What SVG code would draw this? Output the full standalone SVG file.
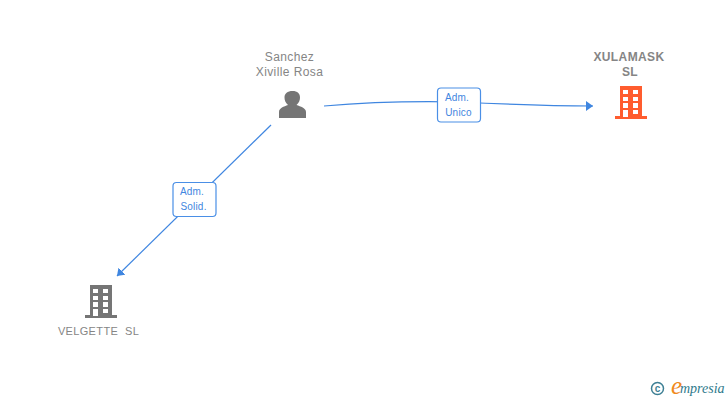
<svg xmlns="http://www.w3.org/2000/svg" width="728" height="400" viewBox="0 0 728 400">
<style>
text{font-family:"Liberation Sans",Arial,sans-serif}
.name{font-size:12px;fill:#858585;text-anchor:middle;letter-spacing:.4px}
.bold{font-weight:bold;letter-spacing:.4px}
.lab{font-size:10px;fill:#3f86e0;text-anchor:middle;letter-spacing:.2px}
.box{fill:#fff;stroke:#4a8fe6;stroke-width:1.2}
.edge{fill:none;stroke:#3f86e0;stroke-width:1.2}
</style>
<defs>
<marker id="arrow" markerUnits="userSpaceOnUse" markerWidth="10" markerHeight="12" refX="7" refY="5" orient="auto"><path d="M0,0L7,5L0,10z" fill="#3f86e0"/></marker>
<g id="building">
<path fill-rule="evenodd" d="M5,0H27V30H32V33H0V30H5ZM8,4V8H13V4ZM18,4V8H23V4ZM8,11V15H13V11ZM18,11V15H23V11ZM8,17V22H13V17ZM18,17V22H23V17ZM8,24V31H13V24ZM18,24V28H23V24Z"/>
</g>
</defs>
<rect width="728" height="400" fill="#fff"/>
<g id="connectors">
<path class="edge" d="M324,106C370,102 410,101 459,102C500,104 550,106 593,106" marker-end="url(#arrow)"/>
<path class="edge" d="M271,125L117,276" marker-end="url(#arrow)"/>
</g>
<g id="edge-label-1">
<rect class="box" x="437.500" y="88" width="43" height="34" rx="3.500"/>
<text class="lab" x="457" y="101">Adm.</text>
<text class="lab" x="458.500" y="116">Unico</text>
</g>
<g id="edge-label-2">
<rect class="box" x="173" y="182.500" width="43" height="34" rx="3.500"/>
<text class="lab" x="192" y="195">Adm.</text>
<text class="lab" x="193.500" y="210">Solid.</text>
</g>
<g id="person">
<text class="name" x="289.500" y="61">Sanchez</text>
<text class="name" x="289.500" y="76">Xiville Rosa</text>
<path fill="#757575" d="M279,118V112C279,108 284,106.500 288,105C285.500,103 284.500,100 284.500,97.500C284.500,93.500 287.500,91 292.500,91C297.500,91 300,93.500 300,97.500C300,100 299,103 296.500,105C300.500,106.500 306,108 306,112V118Z"/>
</g>
<g id="xulamask">
<text class="name bold" x="629" y="61">XULAMASK</text>
<text class="name bold" x="630" y="76">SL</text>
<use href="#building" x="615" y="86" fill="#ff5c2e"/>
</g>
<g id="velgette">
<use href="#building" x="85" y="285" fill="#757575"/>
<text class="name" x="98.500" y="335" style="font-size:11px;letter-spacing:.35px" xml:space="preserve">VELGETTE  SL</text>
</g>
<g id="logo">
<circle cx="657.500" cy="388.500" r="6" fill="none" stroke="#3d7f94" stroke-width="1.500"/>
<text x="657.500" y="392" text-anchor="middle" style="font-size:10px;font-weight:bold;fill:#3d7f94">c</text>
<text x="671" y="394" style="font-family:'Liberation Serif',serif;font-style:italic;font-size:14px;fill:#2f7a8c"><tspan style="font-size:25px;fill:#f08a1d">e</tspan><tspan x="680" y="393">mpresia</tspan></text>
</g>
</svg>
